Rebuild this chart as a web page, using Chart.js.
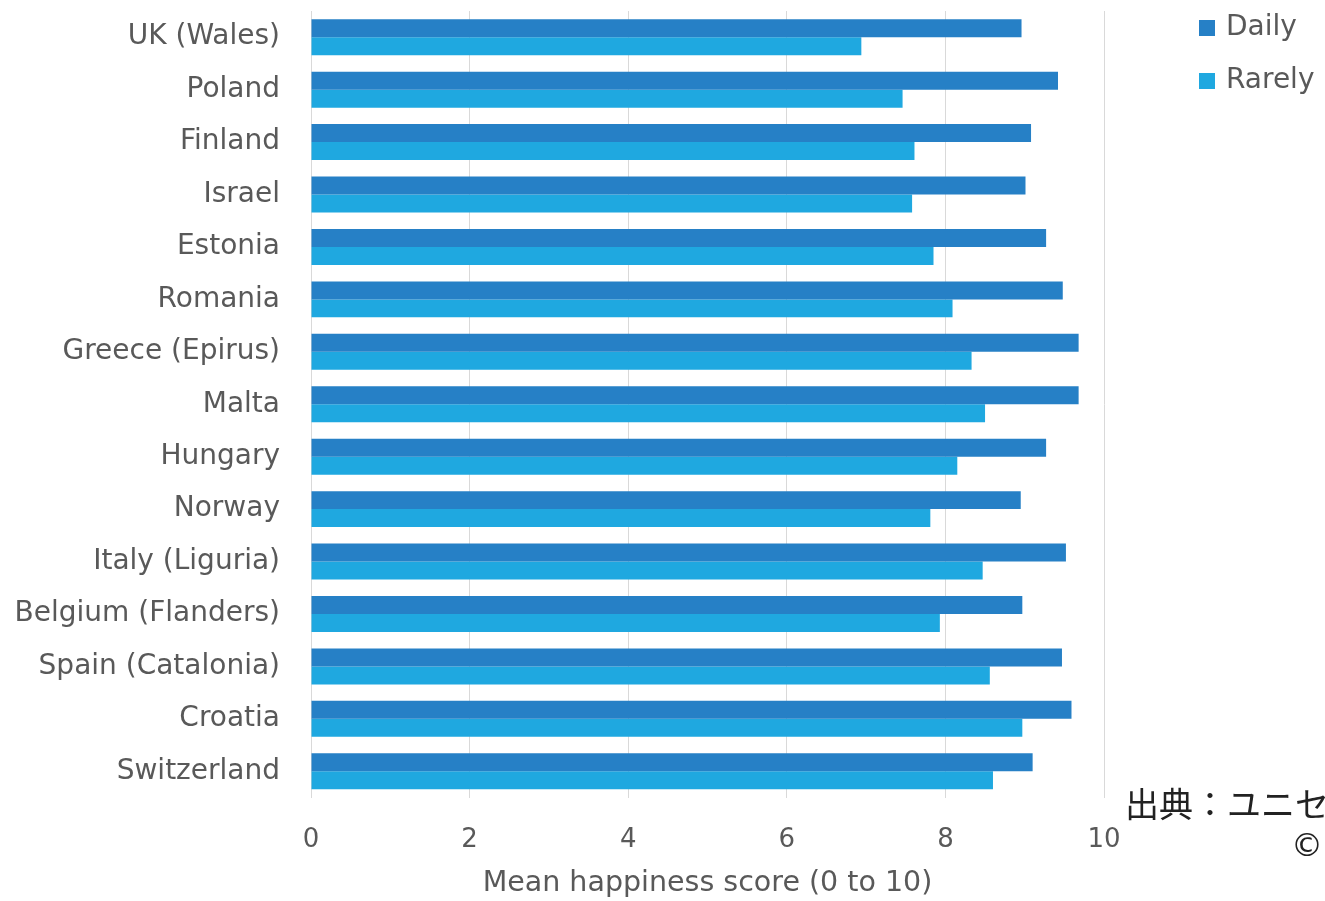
<!DOCTYPE html>
<html>
<head>
<meta charset="utf-8">
<script src="https://cdn.jsdelivr.net/npm/chart.js@4.4.0/dist/chart.umd.min.js"></script>
<style>
    html, body { margin: 0; padding: 0; background: #ffffff; }
    #wrap { width: 1325px; height: 901px; position: relative; }
</style>
</head>
<body>
<div id="wrap"><canvas id="happinessChart"></canvas></div>
<script>
// data
const countries = [
    'UK (Wales)', 'Poland', 'Finland', 'Israel', 'Estonia', 'Romania',
    'Greece (Epirus)', 'Malta', 'Hungary', 'Norway', 'Italy (Liguria)',
    'Belgium (Flanders)', 'Spain (Catalonia)', 'Croatia', 'Switzerland'
];
const dailyScores = [8.96, 9.42, 9.08, 9.01, 9.27, 9.48, 9.68, 9.68, 9.27, 8.95, 9.52, 8.97, 9.47, 9.59, 9.10];
const rarelyScores = [6.94, 7.46, 7.61, 7.58, 7.85, 8.09, 8.33, 8.50, 8.15, 7.81, 8.47, 7.93, 8.56, 8.97, 8.60];
const xTicks = [0, 2, 4, 6, 8, 10];
const seriesNames = ['Daily', 'Rarely'];
const seriesColors = ['#2680c6', '#1fa8e0'];

const FONT = '"DejaVu Sans", sans-serif';
const GREY = '#595959';

// legend on the right, drawn from the datasets
const sideLegend = {
    id: 'sideLegend',
    afterDraw(chart) {
        const ctx = chart.ctx;
        ctx.save();
        ctx.font = '28px ' + FONT;
        ctx.textBaseline = 'middle';
        ctx.textAlign = 'left';
        chart.data.datasets.forEach((ds, i) => {
            const cy = 28 + i * 53;
            ctx.fillStyle = ds.backgroundColor;
            ctx.fillRect(1199, cy - 8, 16, 16);
            ctx.fillStyle = GREY;
            ctx.fillText(ds.label, 1226, cy);
        });
        ctx.restore();
    }
};

// source note pasted over the lower right corner
const sourceNote = {
    id: 'sourceNote',
    afterDraw(chart) {
        const ctx = chart.ctx;
        ctx.save();
        ctx.fillStyle = '#222222';
        ctx.textBaseline = 'middle';
        ctx.textAlign = 'left';
        ctx.font = '34px "Noto Sans CJK JP", sans-serif';
        ctx.fillText('出典：ユニセフ', 1125, 804);
        ctx.font = '32px "DejaVu Sans", sans-serif';
        ctx.fillText('©', 1291, 848);
        ctx.restore();
    }
};

new Chart(document.getElementById('happinessChart'), {
    type: 'bar',
    data: {
        labels: countries,
        datasets: [
            { label: seriesNames[0], data: dailyScores, backgroundColor: seriesColors[0] },
            { label: seriesNames[1], data: rarelyScores, backgroundColor: seriesColors[1] }
        ]
    },
    options: {
        indexAxis: 'y',
        responsive: true,
        maintainAspectRatio: false,
        animation: false,
        layout: { padding: { top: 11, right: 221, bottom: 0, left: 0 } },
        datasets: {
            bar: { categoryPercentage: 0.686, barPercentage: 1.0 }
        },
        plugins: {
            legend: { display: false },
            tooltip: { enabled: false }
        },
        scales: {
            x: {
                min: 0,
                max: 10,
                afterBuildTicks: scale => { scale.ticks = xTicks.map(v => ({ value: v })); },
                afterFit: scale => { scale.height = 103.5; },
                grid: { color: '#d9d9d9', lineWidth: 1, drawTicks: false },
                border: { display: false },
                ticks: {
                    padding: 27,
                    color: GREY,
                    font: { family: FONT, size: 26 }
                },
                title: {
                    display: true,
                    text: 'Mean happiness score (0 to 10)',
                    color: GREY,
                    font: { family: FONT, size: 28.5 },
                    padding: { top: 0, bottom: 0 }
                }
            },
            y: {
                afterFit: scale => {
                    scale.width = 311;
                    scale.paddingTop = 0;
                    scale.paddingBottom = 0;
                },
                grid: { display: false, drawTicks: false },
                border: { display: false },
                ticks: {
                    padding: 31,
                    color: GREY,
                    font: { family: FONT, size: 28 }
                }
            }
        }
    },
    plugins: [sideLegend, sourceNote]
});
</script>
</body>
</html>
